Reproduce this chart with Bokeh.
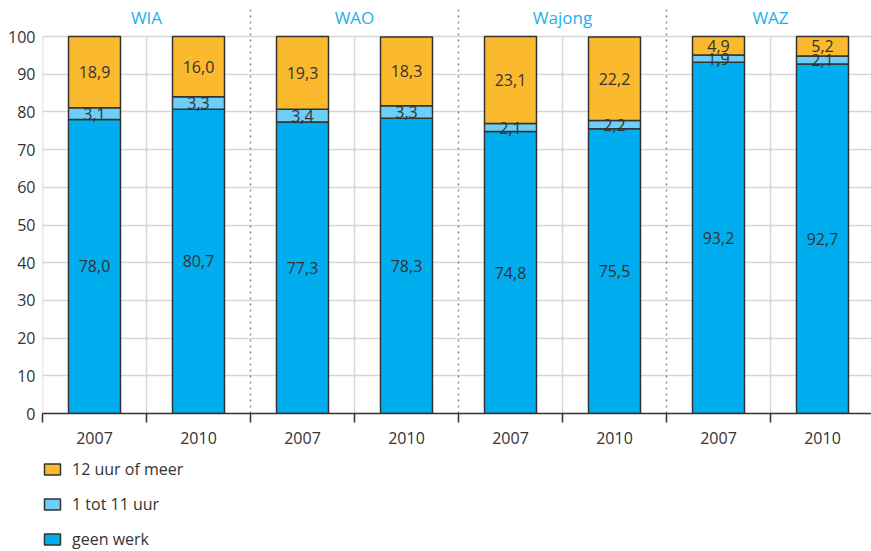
from bokeh.plotting import figure
from bokeh.layouts import column
from bokeh.models import (FixedTicker, Legend, LegendItem, ColumnDataSource, Range1d)
from bokeh.core.properties import value
from bokeh.embed import file_html
from bokeh.resources import INLINE

# ---- data ----
groups = ["WIA", "WAO", "Wajong", "WAZ"]
years = ["2007", "2010", "2007", "2010", "2007", "2010", "2007", "2010"]
geen_werk = [78.0, 80.7, 77.3, 78.3, 74.8, 75.5, 93.2, 92.7]
tot_11_uur = [3.1, 3.3, 3.4, 3.3, 2.1, 2.2, 1.9, 2.1]
meer_12_uur = [18.9, 16.0, 19.3, 18.3, 23.1, 22.2, 4.9, 5.2]
series_labels = ["geen werk", "1 tot 11 uur", "12 uur of meer"]
y_ticks = [0, 10, 20, 30, 40, 50, 60, 70, 80, 90, 100]

FONT = "Open Sans"
TXT = "#333333"
colors = ["#00aeef", "#6dcff6", "#fbb92d"]
group_color = "#1eb0ea"

n = len(years)
xs = [i + 0.5 for i in range(n)]

p = figure(width=871, height=458, output_backend="svg", toolbar_location=None,
           x_range=Range1d(0, 829 / 104), y_range=Range1d(0, 413 / 3.77),
           min_border_left=42, min_border_right=0, min_border_top=0,
           min_border_bottom=45)
p.outline_line_color = None

# grid
p.xgrid.visible = False
p.ygrid.ticker = FixedTicker(ticks=y_ticks)
p.ygrid.grid_line_color = "#d6d6d6"
p.ygrid.grid_line_width = 1.5

# vertical light separators within groups and dotted separators between groups
vx = [0, 1, 3, 5, 7]
p.segment(x0=vx, y0=[0] * len(vx), x1=vx, y1=[100] * len(vx),
          line_color="#d6d6d6", line_width=1.5)
dx = [2, 4, 6]
p.segment(x0=dx, y0=[0] * 3, x1=dx, y1=[107.5] * 3,
          line_color="#8a8a8a", line_width=1.5, line_dash="2 4")

# bars
source = ColumnDataSource(dict(x=xs, geen=geen_werk, tot=tot_11_uur, meer=meer_12_uur))
rs = p.vbar_stack(["geen", "tot", "meer"], x="x", width=0.5, source=source,
                  fill_color=colors, line_color="#333333", line_width=1.5)

# value labels
fmt = lambda v: f"{v:.1f}".replace(".", ",")
lx, ly, lt = [], [], []
for i in range(n):
    g, t, m = geen_werk[i], tot_11_uur[i], meer_12_uur[i]
    lx += [xs[i]] * 3
    ly += [g / 2, g + t / 2, g + t + m / 2]
    lt += [fmt(g), fmt(t), fmt(m)]
p.text(x=lx, y=ly, text=lt, text_align="center", text_baseline="middle",
       text_font=value(FONT), text_font_size="16px", text_color=TXT)

# group titles
p.text(x=[1, 3, 5, 7], y=[105.0] * 4, text=groups, text_align="center",
       text_baseline="middle", text_font=value(FONT), text_font_size="17px",
       text_color=group_color)

# x axis
xa = p.xaxis[0]
xa.ticker = FixedTicker(ticks=xs, minor_ticks=list(range(n + 1)))
xa.major_label_overrides = {xs[i]: years[i] for i in range(n)}
xa.major_tick_line_color = None
xa.major_tick_out = 0
xa.major_tick_in = 0
xa.minor_tick_out = 9
xa.minor_tick_in = 0
xa.minor_tick_line_color = "#333333"
xa.minor_tick_line_width = 1.5
xa.axis_line_color = "#333333"
xa.axis_line_width = 1.5
xa.major_label_standoff = 9
xa.major_label_text_font = FONT
xa.major_label_text_font_size = "16px"
xa.major_label_text_color = TXT

# y axis
ya = p.yaxis[0]
ya.ticker = FixedTicker(ticks=y_ticks)
ya.axis_line_color = None
ya.major_tick_line_color = None
ya.minor_tick_line_color = None
ya.major_tick_out = 0
ya.major_tick_in = 0
ya.major_label_standoff = 7
ya.major_label_text_font = FONT
ya.major_label_text_font_size = "16px"
ya.major_label_text_color = TXT

# ---- legend figure ----
q = figure(width=871, height=93, output_backend="svg", toolbar_location=None,
           x_range=Range1d(0, 1), y_range=Range1d(0, 1),
           min_border_left=42, min_border_right=0, min_border_top=0,
           min_border_bottom=0)
q.outline_line_color = None
q.axis.visible = False
q.grid.visible = False
lr = [q.vbar(x=[-10], top=[-5], bottom=[-6], width=0.1, fill_color=c,
             line_color="#333333", line_width=1.5) for c in colors]

legend = Legend(items=[LegendItem(label=series_labels[2], renderers=[lr[2]]),
                       LegendItem(label=series_labels[1], renderers=[lr[1]]),
                       LegendItem(label=series_labels[0], renderers=[lr[0]])],
                location="top_left", orientation="vertical", margin=0, padding=0,
                spacing=13, glyph_width=20, glyph_height=14, label_height=14,
                label_standoff=10, label_text_font=FONT, label_text_font_size="16px",
                label_text_color=TXT, border_line_color=None,
                background_fill_alpha=0)
q.add_layout(legend)

open("out.html", "w").write(file_html(column(p, q, spacing=0), INLINE))
